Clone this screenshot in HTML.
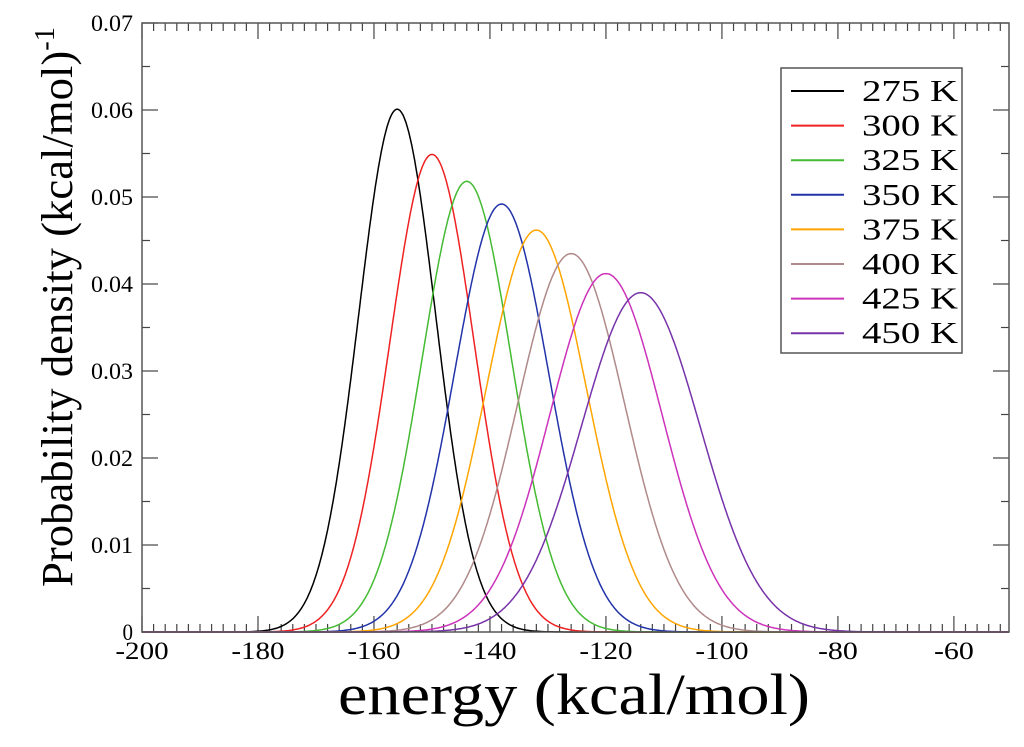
<!DOCTYPE html>
<html><head><meta charset="utf-8">
<style>
html,body{margin:0;padding:0;background:#fff;}
svg{display:block;font-family:"Liberation Serif",serif;}
</style></head>
<body>
<svg id="chart" width="1024" height="747" xmlns="http://www.w3.org/2000/svg">
<g id="ticks"></g>
<g id="series"></g>
<rect x="142" y="23" width="867" height="609" fill="none" stroke="#555" stroke-width="1.5"/>
<text x="574" y="714" font-size="58" text-anchor="middle" textLength="472" lengthAdjust="spacingAndGlyphs">energy (kcal/mol)</text>
<text transform="translate(72,307) rotate(-90)" font-size="44" text-anchor="middle" textLength="560" lengthAdjust="spacingAndGlyphs">Probability density (kcal/mol)<tspan dy="-18" font-size="28">-1</tspan></text>
<g id="legend">
<rect x="781" y="68" width="181" height="285" fill="#fff" stroke="#555" stroke-width="1.5"/>
</g>
</svg>
<script>
const temps = ["275 K","300 K","325 K","350 K","375 K","400 K","425 K","450 K"];
const means = [-156,-150,-144,-138,-132,-126,-120,-114];
const peaks = [0.0601,0.0549,0.0518,0.0492,0.0462,0.0435,0.0412,0.0390];
const colors = ["#000000","#ee2222","#44bb33","#2233aa","#ffa500","#b08a8a","#cc33bb","#7733aa"];
const xTicks = [-200,-180,-160,-140,-120,-100,-80,-60];
const yTicks = [0,0.01,0.02,0.03,0.04,0.05,0.06,0.07];
const X0=142,X1=1009,Y0=632,Y1=23,XMIN=-200,XMAX=-50.5,YMIN=0,YMAX=0.07;
const sx=v=>X0+(v-XMIN)/(XMAX-XMIN)*(X1-X0);
const sy=v=>Y0-(v-YMIN)/(YMAX-YMIN)*(Y0-Y1);
const NS="http://www.w3.org/2000/svg";
const tg=document.getElementById('ticks');
function mk(tag,attrs,parent){const e=document.createElementNS(NS,tag);for(const k in attrs)e.setAttribute(k,attrs[k]);parent.appendChild(e);return e;}
for(let v=-200;v<=XMAX;v+=2){const x=sx(v);const major=Math.abs(v%20)<1e-9;
 const t=mk('line',{x1:x,x2:x,y1:Y0,y2:Y0-(major?16:8),stroke:'#444','stroke-width':1.2},tg);
 
 
 mk('line',{x1:x,x2:x,y1:Y1,y2:Y1+(major?16:8),stroke:'#444','stroke-width':1.2},tg);}
for(let i=0;i<=14;i++){const v=i*0.005;const y=sy(v);const major=i%2===0;
 const t=mk('line',{x1:X0,x2:X0+(major?16:8),y1:y,y2:y,stroke:'#444','stroke-width':1.2},tg);
 
 
 mk('line',{x1:X1,x2:X1-(major?16:8),y1:y,y2:y,stroke:'#444','stroke-width':1.2},tg);}
xTicks.forEach(v=>{const s=String(v);const t=mk('text',{x:sx(v),y:Y0+27,'font-size':25,'text-anchor':'middle',textLength:s.length*13.3,lengthAdjust:'spacingAndGlyphs'},tg);t.textContent=s;
 
 });
yTicks.forEach(v=>{const s=v===0?'0':v.toFixed(2);const t=mk('text',{x:X0-9,y:sy(v)+8,'font-size':23,'text-anchor':'end',textLength:s.length*10.5,lengthAdjust:'spacingAndGlyphs'},tg);t.textContent=s;
 
 });
const sg=document.getElementById('series');
const lg=document.getElementById('legend');
temps.forEach((name,i)=>{
 const sig=1/(peaks[i]*Math.sqrt(2*Math.PI));
 let d='';
 for(let v=XMIN;v<=XMAX;v+=0.25){const p=peaks[i]*Math.exp(-0.5*((v-means[i])/sig)**2);d+=(d?'L':'M')+sx(v).toFixed(1)+','+sy(p).toFixed(1);}
 const p=mk('path',{d:d,fill:'none',stroke:colors[i],'stroke-width':1.5},sg);
 
 
 const y=91+i*34.6;
 const l=mk('line',{x1:791,x2:844,y1:y,y2:y,stroke:colors[i],'stroke-width':2},lg);
 
 
 const t=mk('text',{x:862,y:y+10,'font-size':31,textLength:96,lengthAdjust:'spacingAndGlyphs'},lg);t.textContent=name;
 
 
});
</script>
</body></html>
